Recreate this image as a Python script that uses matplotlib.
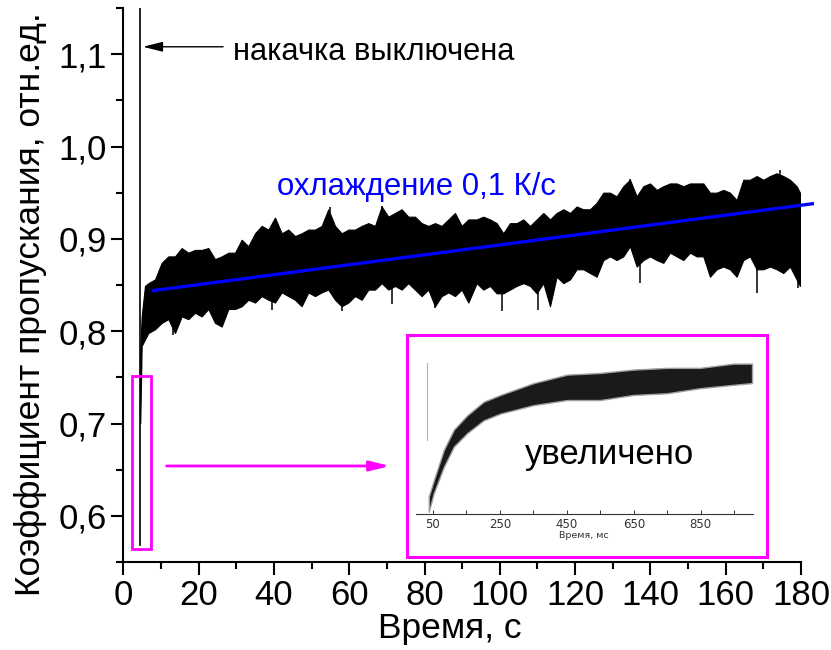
import numpy as np
import matplotlib
matplotlib.use("Agg")
import matplotlib.pyplot as plt
from matplotlib.patches import Rectangle

plt.rcParams["font.family"] = ["Liberation Sans", "DejaVu Sans"]

# transmission trace after the pump is switched off (envelope of the noisy band)
t_env = [4.5, 4.88, 5.76, 6.65, 8.42, 10.19, 11.96, 13.73, 15.50, 17.27,
         19.04, 20.81, 22.58, 24.35, 26.13, 27.90, 29.67, 31.44, 33.21,
         34.98, 36.75, 38.52, 40.29, 42.06, 43.83, 45.60, 47.37, 49.14,
         50.91, 52.68, 54.45, 56.23, 58.00, 59.77, 61.54, 63.31, 65.08,
         66.85, 68.62, 70.39, 72.16, 73.93, 75.70, 77.47, 79.24, 81.01,
         82.78, 84.55, 86.33, 88.10, 89.87, 91.64, 93.85, 95.62, 97.39,
         99.16, 100.93, 102.70, 104.47, 106.24, 108.02, 109.79, 111.56,
         113.33, 115.10, 116.87, 118.64, 120.41, 122.18, 123.95, 125.72,
         127.49, 129.26, 131.03, 132.80, 134.57, 136.35, 138.12, 139.89,
         141.66, 143.43, 145.20, 146.97, 148.74, 150.51, 152.28, 154.05,
         155.82, 157.59, 159.36, 161.13, 162.90, 164.67, 166.45, 168.22,
         169.99, 171.76, 173.53, 175.30, 177.07, 178.84, 179.72]
trace_hi = [0.780, 0.816, 0.849, 0.852, 0.856, 0.874, 0.881, 0.881, 0.890,
            0.885, 0.888, 0.888, 0.890, 0.878, 0.881, 0.885, 0.885, 0.899,
            0.892, 0.906, 0.914, 0.910, 0.923, 0.906, 0.910, 0.903, 0.906,
            0.910, 0.910, 0.914, 0.932, 0.914, 0.906, 0.910, 0.910, 0.914,
            0.917, 0.914, 0.935, 0.924, 0.928, 0.932, 0.924, 0.924, 0.917,
            0.914, 0.917, 0.914, 0.921, 0.928, 0.914, 0.921, 0.921, 0.924,
            0.921, 0.917, 0.906, 0.917, 0.917, 0.921, 0.914, 0.921, 0.928,
            0.921, 0.928, 0.932, 0.928, 0.935, 0.932, 0.932, 0.939, 0.950,
            0.950, 0.946, 0.957, 0.964, 0.946, 0.957, 0.960, 0.953, 0.957,
            0.960, 0.960, 0.957, 0.960, 0.960, 0.960, 0.950, 0.950, 0.953,
            0.950, 0.942, 0.964, 0.964, 0.968, 0.964, 0.968, 0.971, 0.968,
            0.964, 0.957, 0.950]
trace_lo = [0.700, 0.784, 0.791, 0.798, 0.802, 0.809, 0.813, 0.798, 0.816,
            0.813, 0.820, 0.816, 0.824, 0.809, 0.805, 0.824, 0.824, 0.827,
            0.834, 0.831, 0.838, 0.834, 0.831, 0.842, 0.838, 0.834, 0.827,
            0.842, 0.838, 0.842, 0.845, 0.834, 0.827, 0.831, 0.838, 0.834,
            0.845, 0.845, 0.852, 0.845, 0.849, 0.845, 0.852, 0.845, 0.838,
            0.845, 0.827, 0.838, 0.842, 0.838, 0.845, 0.831, 0.852, 0.845,
            0.849, 0.841, 0.841, 0.845, 0.849, 0.852, 0.849, 0.841, 0.852,
            0.827, 0.859, 0.852, 0.856, 0.867, 0.867, 0.863, 0.859, 0.877,
            0.881, 0.877, 0.881, 0.892, 0.870, 0.877, 0.881, 0.877, 0.874,
            0.885, 0.881, 0.877, 0.885, 0.881, 0.881, 0.859, 0.867, 0.870,
            0.867, 0.859, 0.877, 0.881, 0.867, 0.867, 0.870, 0.867, 0.863,
            0.870, 0.856, 0.849]

# single-sample spikes sticking out of the band
spike_t = [13.3, 26.1, 39.4, 58.0, 71.3, 82.8, 100.5, 110.2, 137.2, 168.2,
           179.3, 54.9, 68.6, 134.6, 174.4]
spike_v = [0.796, 0.804, 0.823, 0.822, 0.829, 0.825, 0.822, 0.823, 0.852,
           0.841, 0.847, 0.934, 0.936, 0.965, 0.975]

# the drop at the moment the pump is switched off
drop_t = [4.44, 4.44]
drop_v = [1.20, 0.568]

# linear fit, cooling at 0.1 K/s
fit_t = [8.0, 183.0]
fit_v = [0.844, 0.938]

# zoomed first second, in ms
ms_env = [38, 53, 83, 113, 153, 202, 252, 351, 451, 550, 649, 749, 848, 948, 1003]
ms_hi = [0.581, 0.600, 0.636, 0.660, 0.677, 0.693, 0.701, 0.715, 0.725,
         0.727, 0.731, 0.733, 0.733, 0.738, 0.738]
ms_lo = [0.563, 0.585, 0.616, 0.640, 0.656, 0.671, 0.679, 0.689, 0.695,
         0.695, 0.701, 0.703, 0.709, 0.713, 0.715]
ms_drop_t = [33, 33]
ms_drop_v = [0.648, 0.739]

x_major = np.arange(0, 181, 20)
x_minor = np.arange(0, 181, 10)
y_major = [0.6, 0.7, 0.8, 0.9, 1.0, 1.1]
y_minor = np.arange(0.55, 1.151, 0.05)
inset_major = [50, 250, 450, 650, 850]
inset_minor = [150, 350, 550, 750, 950]

MAGENTA = "#FF00FF"
W, H = 831, 650

fig = plt.figure(figsize=(W / 100, H / 100), dpi=100)
ax = fig.add_axes([123.3 / W, 1 - 562 / H, (801 - 123.3) / W, (562 - 8) / H])

ax.fill_between(t_env, trace_lo, trace_hi, color="black", lw=0.8, zorder=2)
mid = np.interp(spike_t, t_env, (np.array(trace_hi) + np.array(trace_lo)) / 2)
ax.vlines(spike_t, mid, spike_v, color="black", lw=1.1, zorder=2)
ax.plot(drop_t, drop_v, color="black", lw=1.2, zorder=2)
ax.plot(fit_t, fit_v, color="#0000FF", lw=2.4, clip_on=False, zorder=3)

ax.set_xlim(0, 180)
ax.set_ylim(0.55, 1.15)
ax.set_xticks(x_major)
ax.set_xticks(x_minor, minor=True)
ax.set_yticks(y_major)
ax.set_yticks(y_minor, minor=True)
ax.set_yticklabels([f"{v:.1f}".replace(".", ",") for v in y_major])
ax.tick_params(which="both", direction="out", width=1.5, labelsize=25)
ax.tick_params(which="major", length=9, pad=3)
ax.tick_params(which="minor", length=5)
for side in ("top", "right"):
    ax.spines[side].set_visible(False)
for side in ("left", "bottom"):
    ax.spines[side].set_linewidth(1.5)

ax.set_xlabel("Время, с", fontsize=25.5)
ax.set_ylabel("Коэффициент пропускания, отн.ед.", fontsize=25.5)
ax.xaxis.set_label_coords(0.482, -0.09)
ax.yaxis.set_label_coords(-0.112, 0.465)

ax.annotate("", xy=(5.2, 1.108), xytext=(26.5, 1.108),
            arrowprops=dict(arrowstyle="-|>,head_length=0.6,head_width=0.15",
                            color="black", lw=1, mutation_scale=20,
                            shrinkA=0, shrinkB=0))
ax.text(29.1, 1.094, "накачка выключена", fontsize=22.2, va="baseline")
ax.text(40.8, 0.948, "охлаждение 0,1 К/с", fontsize=22.4, va="baseline",
        color="#0000FF")

# marker of the zoomed region and arrow to the inset
ax.add_patch(Rectangle((2.2, 0.564), 5.1, 0.187, fill=False, ec=MAGENTA,
                       lw=2, clip_on=False, zorder=4))
ax.annotate("", xy=(70.8, 0.654), xytext=(11.5, 0.654),
            arrowprops=dict(arrowstyle="-|>,head_length=0.6,head_width=0.15",
                            color=MAGENTA, lw=2, mutation_scale=20,
                            shrinkA=0, shrinkB=0))

fig.patches.append(Rectangle((407.3 / W, 1 - 556.7 / H), (766.7 - 407.3) / W,
                             (556.7 - 335) / H, transform=fig.transFigure,
                             fill=False, ec=MAGENTA, lw=2.2))

ins = fig.add_axes([416 / W, 1 - 514.3 / H, (752.7 - 416) / W, (514.3 - 345) / H])
ins.patch.set_alpha(0)
ins.fill_between(ms_env, ms_lo, ms_hi, facecolor="#1a1a1a", edgecolor="#a0a0a0",
                 lw=1.0)
ins.plot(ms_drop_t, ms_drop_v, color="#b0b0b0", lw=0.8)
ins.set_xlim(0, 1005)
ins.set_ylim(0.56, 0.76)
ins.set_xticks(inset_major)
ins.set_xticks(inset_minor, minor=True)
ins.set_yticks([])
ins.tick_params(which="both", direction="in", length=3, width=0.7,
                colors="#333333", labelsize=8.5, pad=3)
for lab in ins.get_xticklabels():
    lab.set_family("DejaVu Sans")
for side in ("top", "right", "left"):
    ins.spines[side].set_visible(False)
ins.spines["bottom"].set_linewidth(0.8)
ins.spines["bottom"].set_color("#333333")
ins.set_xlabel("Время, мс", fontsize=6.8, family="DejaVu Sans",
               color="#333333", labelpad=0)
ins.text(326, 0.620, "увеличено", fontsize=25, va="baseline")

fig.savefig("out.png", dpi=100)
